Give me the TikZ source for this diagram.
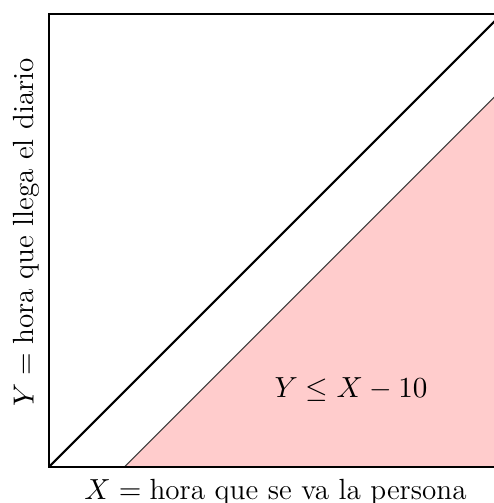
\documentclass[tikz,border=0pt]{standalone}
\usepackage{amsmath,amssymb}
\usetikzlibrary{positioning}
\definecolor{rosa}{RGB}{255,204,204}
\definecolor{linea}{RGB}{60,60,60}
\tikzset{
  marco/.style={thick,draw=black},
  zona/.style={fill=rosa,draw=linea,thin},
  lab/.style={font=\fontsize{11}{13}\selectfont}
}
\begin{document}
\begin{tikzpicture}[x=.1cm,y=.1cm]
  \useasboundingbox (-6.49,-4.77) rectangle (58.94,61.85);
  \fill[zona] (10,0)--(60,0)--(60,50)--cycle;
  \draw[marco] (0,0) rectangle (60,60);
  \draw[marco] (0,0)--(60,60);
  \node[lab] (region) at (40,10.3) {$Y\leq X-10$};
  \node[lab,below=1pt] (ejex) at (30,0) {$X=\text{hora que se va la persona}$};
  \node[lab,above=3pt,rotate=90] (ejey) at (0,30) {$Y=\text{hora que llega el diario}$};
\end{tikzpicture}
\end{document}
